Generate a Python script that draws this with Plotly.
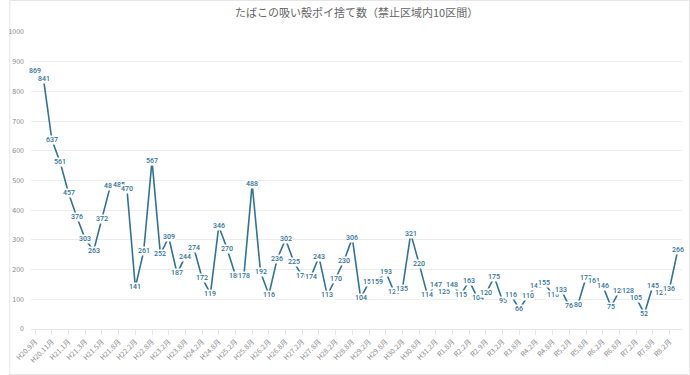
import plotly.graph_objects as go

categories = [
    "H20.9月", "H20.10月", "H20.11月", "H20.12月", "H21.1月", "H21.2月", "H21.3月", "H21.4月",
    "H21.5月", "H21.6月", "H21.8月", "H21.11月", "H22.2月", "H22.5月", "H22.8月", "H22.11月",
    "H23.2月", "H23.5月", "H23.8月", "H23.11月", "H24.2月", "H24.5月", "H24.8月", "H24.11月",
    "H25.2月", "H25.5月", "H25.8月", "H25.11月", "H26.2月", "H26.5月", "H26.8月", "H26.11月",
    "H27.2月", "H27.5月", "H27.8月", "H27.11月", "H28.2月", "H28.5月", "H28.8月", "H28.11月",
    "H29.2月", "H29.5月", "H29.8月", "H29.11月", "H30.2月", "H30.5月", "H30.8月", "H30.11月",
    "H31.2月", "R1.5月", "R1.8月", "R1.11月", "R2.2月", "R2.5月", "R2.9月", "R2.11月",
    "R3.2月", "R3.5月", "R3.8月", "R3.11月", "R4.2月", "R4.5月", "R4.8月", "R4.11月",
    "R5.2月", "R5.5月", "R5.8月", "R5.11月", "R6.2月", "R6.5月", "R6.8月", "R6.11月",
    "R7.2月", "R7.5月", "R7.8月", "R7.11月", "R8.2月", "R8.5月",
]

counts = [
    869, 841, 637, 561, 457, 376, 303, 263, 372, 481, 485, 470, 141, 261, 567, 252,
    309, 187, 244, 274, 172, 119, 346, 270, 180, 178, 488, 192, 116, 236, 302, 225,
    178, 174, 243, 113, 170, 230, 306, 104, 158, 159, 193, 125, 135, 321, 220, 114,
    147, 125, 148, 115, 163, 104, 120, 175, 95, 116, 66, 110, 145, 155, 116, 133,
    76, 80, 173, 161, 146, 75, 128, 128, 105, 52, 145, 121, 136, 266,
]

tick_labels = categories[::2]

title_text = "たばこの吸い殻ポイ捨て数（禁止区域内10区間）"
line_color = "#2f7399"

fig = go.Figure()
fig.add_trace(go.Scatter(
    x=categories, y=counts, mode="lines",
    line=dict(color=line_color, width=1.6),
    hoverinfo="x+y", showlegend=False,
))

annotations = []
for c, v in zip(categories, counts):
    annotations.append(dict(
        x=c, y=v, xref="x", yref="y", text=str(v), showarrow=False,
        font=dict(size=7, color=line_color, family="Roboto", weight=500),
        bgcolor="white", borderpad=0, xanchor="center", yanchor="middle",
    ))
annotations.append(dict(
    x=0.5, y=(329 - 12) / 297, xref="paper", yref="paper", text=title_text,
    showarrow=False, xanchor="center", yanchor="middle",
    font=dict(size=11, color="#666666", family="Noto Sans CJK JP"),
))

L, R, T, B = 22, 8, 32, 46
W, H = 690, 375
pw, ph = W - L - R, H - T - B

fig.update_layout(
    width=W, height=H,
    margin=dict(l=L, r=R, t=T, b=B),
    paper_bgcolor="white", plot_bgcolor="white",
    annotations=annotations,
    font=dict(family="Noto Sans CJK JP", color="#666666"),
    xaxis=dict(
        type="category", categoryorder="array", categoryarray=categories,
        range=[-0.5, len(categories) - 0.5],
        tickmode="array", tickvals=tick_labels, ticktext=tick_labels,
        tickangle=-45, tickfont=dict(size=7, color="#888888"),
        showgrid=False, showline=True, linecolor="#e6e6e6", linewidth=1,
        ticks="outside", ticklen=5, tickcolor="#e6e6e6", zeroline=False,
    ),
    yaxis=dict(
        range=[0, 1000], tickvals=list(range(0, 1001, 100)),
        tickfont=dict(size=7, color="#888888"),
        showgrid=True, gridcolor="#ececec", gridwidth=1,
        zeroline=False, showline=False, ticklabelstandoff=6,
    ),
    shapes=[dict(
        type="rect", xref="paper", yref="paper",
        x0=(0.5 - L) / pw, x1=(W - 0.5 - L) / pw,
        y0=(H - B - (H - 0.5)) / ph, y1=(H - B - 0.5) / ph,
        line=dict(color="#e6e6e6", width=1), fillcolor="rgba(0,0,0,0)", layer="below",
    )],
)

fig.write_html("out.html")
